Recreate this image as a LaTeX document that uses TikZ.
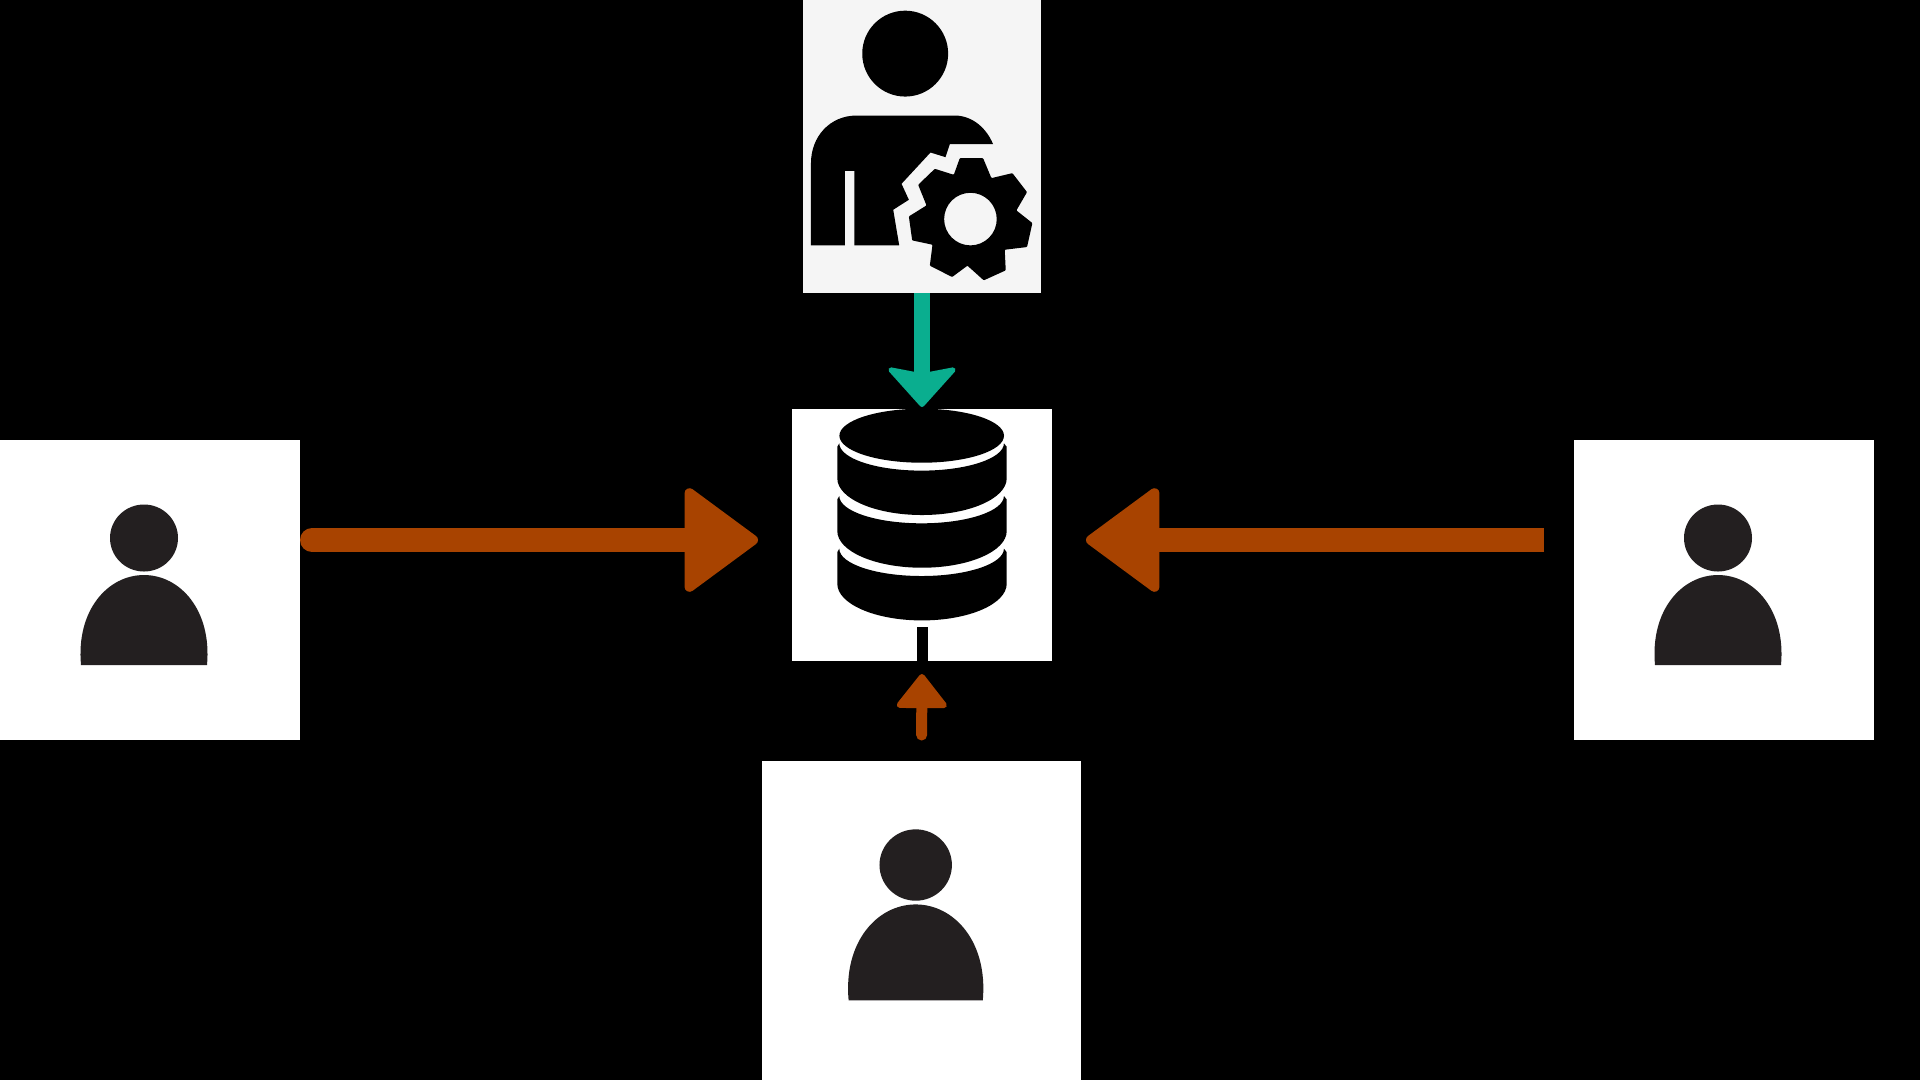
\documentclass[tikz,border=0pt]{standalone}
\usetikzlibrary{positioning,arrows.meta}
\definecolor{cflow}{RGB}{168,67,0}
\definecolor{cadmin}{RGB}{10,174,143}
\definecolor{cperson}{RGB}{35,31,32}
\definecolor{cpanel}{RGB}{245,245,245}

\tikzset{
  pics/personicon/.style={code={
    \fill[cperson] (0,0) ellipse[x radius=34, y radius=33.5];
    \fill[cperson] (-63,127) .. controls (-68,72) and (-36,37) .. (0,37)
      .. controls (36,37) and (68,72) .. (63,127) -- cycle;
  }}
}

\begin{document}
\begin{tikzpicture}[
  x=0.1mm, y=-0.1mm,
  panel/.style={rectangle, fill=white, inner sep=0pt, outer sep=0pt},
  userbox/.style={panel, minimum width=30mm, minimum height=30mm},
  flow/.style={draw=cflow, line width=2.4mm,
               -{Triangle[length=7.7mm, width=11.1mm, round, line width=1mm]}},
  smallflow/.style={draw=cflow, line width=1.1mm, line cap=round,
               -{Triangle[length=3.6mm, width=5.5mm, round, line width=0.6mm]}},
  adminflow/.style={draw=cadmin, line width=1.6mm,
               -{Stealth[length=4.2mm, inset=0.7mm, width=7.5mm, round, line width=0.5mm]}}
]

% ---------- background ----------
\fill[black] (0,0) rectangle (1920,1080);

% ---------- panels ----------
\node[panel, minimum width=26mm, minimum height=25.2mm] (db) at (922,535) {};
\node[panel, fill=cpanel, minimum width=23.8mm, minimum height=29.3mm,
      above=11.6mm of db] (admin) {};
\node[panel, minimum width=31.9mm, minimum height=31.9mm, anchor=north] (userb) at (921.5,761) {};
\node[userbox] (userl) at (150,590) {};
\node[userbox] (userr) at (1724,590) {};

% ---------- people ----------
\pic at (144,538) {personicon};
\pic at (1718,538) {personicon};
\pic[scale=1.065] at (915.7,865) {personicon};

% ---------- database ----------
\fill[black] (921.7,435.7) ellipse[x radius=82.3, y radius=27];
\foreach \dy in {0,52.7,105.4}
  \fill[black] (837.3,446.7+\dy) -- (839.3,443.3+\dy)
    arc[start angle=180, end angle=0, x radius=82.3, y radius=27.3]
    -- (1006.7,446.7+\dy) -- (1006.7,478.3+\dy)
    arc[start angle=0, end angle=180, x radius=84.7, y radius=36.7] -- cycle;
\draw[black, line width=1.1mm] (db.south) -- ++(0,-34);

% ---------- admin figure ----------
\begin{scope}[shift={(790,0)}, x=0.0333mm, y=-0.0333mm]
  \fill[black] (346,161) circle[radius=129];
  \fill[black] (63,737) -- (63,490) .. controls (63,410) and (120,347) .. (200,347)
    -- (500,347) .. controls (550,350) and (590,385) .. (610,433)
    -- (480,433) -- (467,472) -- (422,458) -- (335,552) -- (357,600) -- (310,630)
    -- (328,737) -- (193,737) -- (193,513) -- (165,513) -- (165,737) -- cycle;
  \fill[black, even odd rule, rounded corners=0.08mm] (510,475) -- (580,475) -- (605,535) -- (668,520)
    -- (712,577) -- (680,632) -- (728,670) -- (712,742) -- (645,750) -- (648,812)
    -- (582,842) -- (533,798) -- (487,832) -- (420,798) -- (428,735) -- (367,722)
    -- (357,650) -- (410,617) -- (385,555) -- (435,507) -- (492,525) -- cycle
    (542,658) circle[radius=79];
\end{scope}

% ---------- connectors ----------
\coordinate (flowy) at (0,540);
\draw[flow, line cap=round, shorten <=1.2mm, shorten >=3.4mm] (userl.east |- flowy) -- (db.west |- flowy);
\draw[flow, shorten <=3mm, shorten >=3.4mm] (userr.west |- flowy) -- (db.east |- flowy);
\draw[smallflow, shorten <=2.6mm, shorten >=1.3mm] (userb.north) -- (db.south);
\draw[adminflow, shorten >=0.2mm] (admin.south) -- (db.north);

\end{tikzpicture}
\end{document}
